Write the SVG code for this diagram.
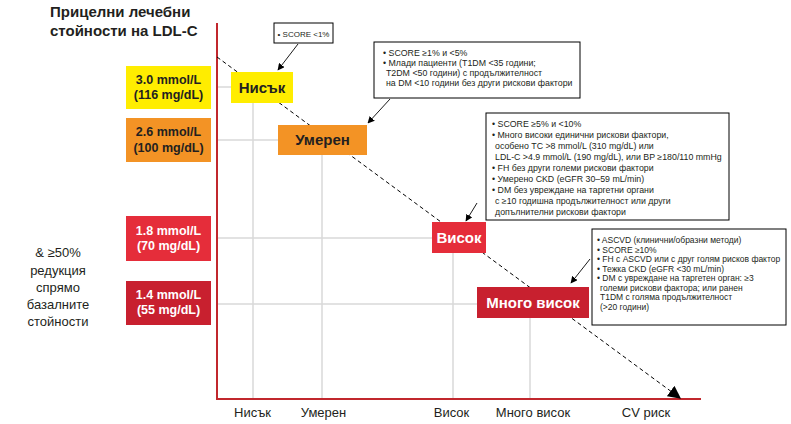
<svg xmlns="http://www.w3.org/2000/svg" width="791" height="424" viewBox="0 0 791 424">
<defs>
<style>
text{font-family:"Liberation Sans",Arial,sans-serif}
.title{font-size:15px;font-weight:bold;fill:#231f20}
.val{font-size:12.5px;font-weight:bold;text-anchor:middle}
.risk{font-weight:bold;text-anchor:middle;font-size:15px}
.ax{font-size:13px;fill:#231f20;text-anchor:middle}
.side{font-size:13px;fill:#231f20;text-anchor:middle}
.note{font-size:8.8px;fill:#231f20}
.note4{font-size:8.5px;fill:#231f20}
.grid{stroke:#d9d9d9;stroke-width:1.5;fill:none}
.box{fill:#fff;stroke:#000;stroke-width:1}
.ptr{stroke:#000;stroke-width:0.9;fill:none;marker-end:url(#sm)}
</style>
<marker id="sm" viewBox="0 0 10 10" refX="9" refY="5" markerWidth="7" markerHeight="7" markerUnits="userSpaceOnUse" orient="auto"><path d="M0,0 L10,5 L0,10 z" fill="#000"/></marker>
<marker id="big" viewBox="0 0 10 10" refX="9" refY="5" markerWidth="13" markerHeight="13" markerUnits="userSpaceOnUse" orient="auto"><path d="M0,0 L10,5 L0,10 z" fill="#000"/></marker>
</defs>
<rect width="791" height="424" fill="#fff"/>

<g id="title">
<text class="title" x="50" y="17">Прицелни лечебни</text>
<text class="title" x="50" y="36">стойности на LDL-C</text>
</g>

<g id="grid">
<line class="grid" x1="217" y1="87" x2="231" y2="87"/>
<line class="grid" x1="217" y1="140" x2="278" y2="140"/>
<line class="grid" x1="217" y1="238" x2="432" y2="238"/>
<line class="grid" x1="217" y1="304" x2="477" y2="304"/>
<line class="grid" x1="253" y1="103" x2="253" y2="399"/>
<line class="grid" x1="322" y1="155" x2="322" y2="399"/>
<line class="grid" x1="453" y1="253" x2="453" y2="399"/>
<line class="grid" x1="530" y1="318" x2="530" y2="399"/>
</g>

<g id="axes">
<line x1="217" y1="23" x2="217" y2="400" stroke="#c1272d" stroke-width="2"/>
<line x1="216" y1="399" x2="701" y2="399" stroke="#c1272d" stroke-width="2"/>
</g>

<g id="connectors">
<line x1="217" y1="57" x2="680" y2="398" stroke="#000" stroke-width="1" stroke-dasharray="4,3" marker-end="url(#big)"/>
<line class="ptr" x1="298" y1="44" x2="278" y2="70"/>
<line class="ptr" x1="390" y1="99" x2="368" y2="123"/>
<line class="ptr" x1="477" y1="203" x2="466" y2="221"/>
<line class="ptr" x1="590" y1="259" x2="571" y2="283"/>
</g>

<g id="val-30">
<rect x="126" y="66" width="85" height="43" fill="#ffed00"/>
<text class="val" x="168.5" y="84" fill="#231f20">3.0 mmol/L</text>
<text class="val" x="168.5" y="99" fill="#231f20">(116 mg/dL)</text>
</g>
<g id="val-26">
<rect x="126" y="118" width="85" height="44" fill="#f39325"/>
<text class="val" x="168.5" y="136" fill="#231f20">2.6 mmol/L</text>
<text class="val" x="168.5" y="152" fill="#231f20">(100 mg/dL)</text>
</g>
<g id="val-18">
<rect x="126" y="216" width="85" height="45" fill="#e52d3a"/>
<text class="val" x="168.5" y="235" fill="#fff">1.8 mmol/L</text>
<text class="val" x="168.5" y="250" fill="#fff">(70 mg/dL)</text>
</g>
<g id="val-14">
<rect x="126" y="281" width="85" height="44" fill="#c8202f"/>
<text class="val" x="168.5" y="299" fill="#fff">1.4 mmol/L</text>
<text class="val" x="168.5" y="314" fill="#fff">(55 mg/dL)</text>
</g>

<g id="side-note">
<text class="side" x="58" y="257">&amp; ≥50%</text>
<text class="side" x="58" y="275">редукция</text>
<text class="side" x="58" y="292">спрямо</text>
<text class="side" x="58" y="309">базалните</text>
<text class="side" x="58" y="326">стойности</text>
</g>

<g id="risk-low">
<rect x="231" y="72" width="62" height="31" fill="#ffed00"/>
<text class="risk" x="262" y="93" fill="#231f20">Нисък</text>
</g>
<g id="risk-moderate">
<rect x="278" y="125" width="89" height="30" fill="#f39325"/>
<text class="risk" x="322.5" y="145" fill="#231f20">Умерен</text>
</g>
<g id="risk-high">
<rect x="432" y="222" width="54" height="31" fill="#e52d3a"/>
<text class="risk" x="459" y="243" fill="#fff">Висок</text>
</g>
<g id="risk-veryhigh">
<rect x="477" y="287" width="112" height="31" fill="#c8202f"/>
<text class="risk" x="533" y="308" fill="#fff">Много висок</text>
</g>

<g id="note-low">
<rect class="box" x="274" y="23" width="59" height="20"/>
<text x="303.5" y="36.5" text-anchor="middle" font-size="8" fill="#231f20">• SCORE &lt;1%</text>
</g>
<g id="note-moderate">
<rect class="box" x="374" y="42" width="206" height="56"/>
<text class="note" x="383" y="56">• SCORE ≥1% и &lt;5%</text>
<text class="note" x="383" y="66">• Млади пациенти (T1DM &lt;35 години;</text>
<text class="note" x="386" y="76">T2DM &lt;50 години) с продължителност</text>
<text class="note" x="386" y="86">на DM &lt;10 години без други рискови фактори</text>
</g>
<g id="note-high">
<rect class="box" x="486" y="113" width="243" height="107"/>
<text class="note" x="492" y="127">• SCORE ≥5% и &lt;10%</text>
<text class="note" x="492" y="138">• Много високи единични рискови фактори,</text>
<text class="note" x="495" y="149">особено TC &gt;8 mmol/L (310 mg/dL) или</text>
<text class="note" x="495" y="160">LDL-C &gt;4.9 mmol/L (190 mg/dL), или BP ≥180/110 mmHg</text>
<text class="note" x="492" y="171">• FH без други големи рискови фактори</text>
<text class="note" x="492" y="182">• Умерено CKD (eGFR 30–59 mL/min)</text>
<text class="note" x="492" y="193">• DM без увреждане на таргетни органи</text>
<text class="note" x="495" y="204">с ≥10 годишна продължителност или други</text>
<text class="note" x="495" y="215">допълнителни рискови фактори</text>
</g>
<g id="note-veryhigh">
<rect class="box" x="592" y="229" width="194" height="96"/>
<text class="note4" x="597" y="243">• ASCVD (клинични/образни методи)</text>
<text class="note4" x="597" y="252.5">• SCORE ≥10%</text>
<text class="note4" x="597" y="262">• FH с ASCVD или с друг голям рисков фактор</text>
<text class="note4" x="597" y="271.5">• Тежка CKD (eGFR &lt;30 mL/min)</text>
<text class="note4" x="597" y="281">• DM с увреждане на таргетен орган: ≥3</text>
<text class="note4" x="600" y="290.5">големи рискови фактора; или ранен</text>
<text class="note4" x="600" y="300">T1DM с голяма продължителност</text>
<text class="note4" x="600" y="309.5">(&gt;20 години)</text>
</g>

<g id="x-labels">
<text class="ax" x="252.5" y="417">Нисък</text>
<text class="ax" x="323.5" y="417">Умерен</text>
<text class="ax" x="451.5" y="417">Висок</text>
<text class="ax" x="533" y="417">Много висок</text>
<text class="ax" x="646" y="417">CV риск</text>
</g>
</svg>
